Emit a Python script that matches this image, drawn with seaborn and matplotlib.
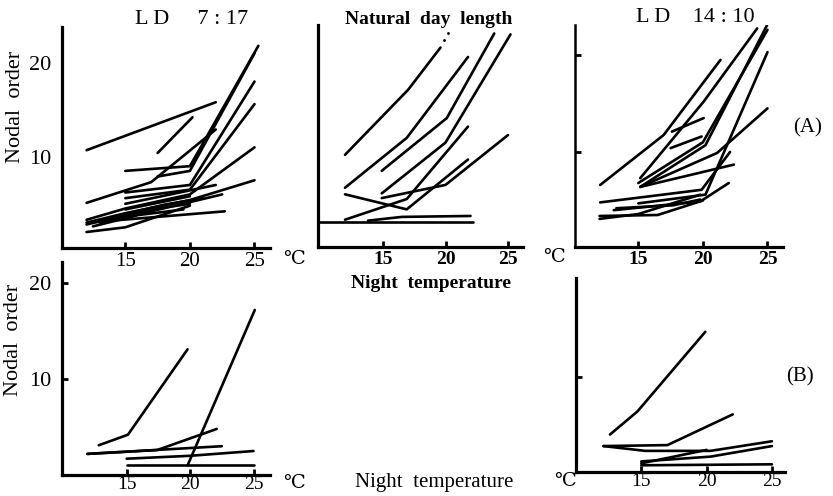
import matplotlib
matplotlib.use('Agg')
import matplotlib.pyplot as plt
import seaborn as sns
import pandas as pd

sns.set_theme(style='white')
plt.rcParams['font.family'] = ['Liberation Serif', 'DejaVu Serif']

# ---------------- data (night temperature, nodal order) ----------------
ld7_a = [
    [(12.0, 10.7), (22.0, 15.8)],
    [(17.5, 10.4), (20.2, 14.2)],
    [(15.0, 8.5), (20.0, 9.0), (25.3, 21.8)],
    [(12.0, 5.1), (17.0, 7.3), (22.0, 12.9)],
    [(17.5, 7.9), (20.0, 8.5), (25.0, 21.0)],
    [(15.0, 6.2), (20.0, 7.0), (25.0, 18.0)],
    [(15.0, 5.6), (20.0, 6.5), (25.0, 15.6)],
    [(12.0, 3.3), (15.0, 4.5), (20.0, 6.0), (25.0, 11.0)],
    [(15.0, 5.0), (22.0, 7.0)],
    [(12.0, 3.0), (15.0, 4.0), (20.0, 5.4), (25.0, 7.5)],
    [(13.0, 3.0), (17.0, 4.2), (22.5, 6.0)],
    [(12.0, 2.0), (15.0, 2.5), (20.0, 4.8)],
    [(13.0, 3.1), (22.7, 4.2)],
    [(15.0, 4.4), (20.0, 5.8)],
    [(12.0, 2.8), (17.0, 4.4), (20.0, 5.0)],
    [(14.0, 3.6), (18.0, 4.9), (21.0, 5.6)],
    [(12.5, 2.6), (16.0, 3.8), (19.5, 4.4)],
]
natural_a = [
    [(11.96, 10.2), (17.0, 17.1), (19.6, 21.6)],
    [(11.96, 6.7), (16.9, 12.0), (21.8, 20.6)],
    [(14.9, 8.5), (20.1, 14.1), (23.9, 23.1)],
    [(14.9, 6.1), (20.0, 11.5), (25.2, 23.0)],
    [(11.96, 6.0), (16.9, 4.4), (21.8, 9.7)],
    [(14.9, 5.6), (20.0, 7.0), (25.0, 12.3)],
    [(11.96, 3.3), (16.9, 5.5), (21.8, 13.2)],
    [(13.8, 3.2), (16.5, 3.6), (22.0, 3.7)],
    [(9.9, 3.1), (22.2, 3.1)],
]
natural_dots = [(19.85, 22.4), (20.2, 23.1)]
ld14_a = [
    [(12.05, 6.6), (16.96, 11.75), (21.36, 19.5)],
    [(15.15, 7.3), (20.06, 15.2), (24.2, 22.75)],
    [(15.15, 6.4), (20.2, 10.7), (24.97, 23.1)],
    [(15.0, 6.8), (20.0, 11.0), (25.0, 22.6)],
    [(17.6, 12.1), (20.06, 13.5)],
    [(17.5, 10.4), (19.9, 11.6)],
    [(15.15, 6.4), (21.1, 9.9), (25.0, 14.5)],
    [(15.15, 6.4), (22.4, 8.7)],
    [(12.05, 4.8), (17.5, 5.7), (19.9, 6.1), (22.1, 10.0)],
    [(13.1, 4.0), (19.8, 4.9), (22.0, 6.8)],
    [(15.0, 4.7), (20.2, 5.6), (25.0, 20.3)],
    [(12.0, 3.1), (15.0, 3.6), (19.8, 5.6)],
    [(13.3, 4.2), (17.7, 4.5), (19.8, 5.1)],
    [(12.0, 3.4), (16.5, 3.5), (20.0, 5.0)],
]
ld7_b = [
    [(12.8, 3.1), (15.1, 4.2), (19.8, 13.1)],
    [(19.8, 1.0), (25.1, 17.2)],
    [(11.9, 2.2), (17.4, 2.6), (22.1, 4.8)],
    [(11.9, 2.2), (22.5, 3.0)],
    [(15.0, 1.7), (20.0, 2.0), (25.0, 2.5)],
    [(15.0, 1.0), (25.0, 1.0)],
]
ld14_b = [
    [(12.6, 4.0), (14.7, 6.4), (19.9, 14.7)],
    [(12.1, 2.8), (17.0, 2.9), (22.0, 6.1)],
    [(12.1, 2.8), (15.3, 2.3), (20.3, 2.3), (25.0, 3.3)],
    [(15.0, 1.2), (20.3, 1.7), (25.0, 2.8)],
    [(15.0, 1.0), (20.0, 2.4)],
    [(15.0, 0.8), (25.0, 0.9)],
]
x_ticks = [15, 20, 25]
x_ticklabels = ['15', '20', '25']
y_ticks = [10, 20]
y_ticklabels = ['10', '20']

W, H = 833, 496
fig = plt.figure(figsize=(W / 100, H / 100), dpi=100)
fig.patch.set_facecolor('white')


def to_df(lines):
    rows = []
    for i, ln in enumerate(lines):
        for x, y in ln:
            rows.append({'line': i, 'temp': x, 'node': y})
    return pd.DataFrame(rows)


def add_ax(x0, x1, ytop, ybot, xlim, ylim):
    ax = fig.add_axes([x0 / W, 1 - ybot / H, (x1 - x0) / W, (ybot - ytop) / H])
    ax.set_facecolor('none')
    ax.set_xlim(*xlim)
    ax.set_ylim(*ylim)
    for s in ['top', 'right']:
        ax.spines[s].set_visible(False)
    for s in ['left', 'bottom']:
        ax.spines[s].set_color('black')
        ax.spines[s].set_linewidth(2.3)
    ax.grid(False)
    return ax


def draw(ax, lines):
    sns.lineplot(data=to_df(lines), x='temp', y='node', units='line',
                 estimator=None, sort=False, color='black', linewidth=1.9,
                 ax=ax, legend=False)
    ax.set_xlabel('')
    ax.set_ylabel('')


def xt(ax, bold=False, size=14, pad=3):
    ax.set_xticks(x_ticks)
    ax.set_xticklabels(x_ticklabels, fontsize=size,
                       fontweight='bold' if bold else 'normal')
    ax.tick_params(axis='x', direction='in', length=4, width=2,
                   pad=pad, colors='black', bottom=True)


# Panel A: LD 7:17
axA1 = add_ax(62, 270, 27, 248, (10.1, 26.2), (0.3, 23.8))
draw(axA1, ld7_a)
xt(axA1, size=15)
axA1.set_yticks(y_ticks)
axA1.set_yticklabels(y_ticklabels, fontsize=16)
axA1.tick_params(axis='y', length=0, pad=8, colors='black')

# Panel A: natural day length
axA2 = add_ax(318, 523, 25, 247, (9.8, 26.2), (0.4, 24.0))
draw(axA2, natural_a)
sns.scatterplot(x=[p[0] for p in natural_dots], y=[p[1] for p in natural_dots],
                color='black', s=5, ax=axA2, legend=False)
xt(axA2, bold=True)
axA2.set_yticks([])

# Panel A: LD 14:10
axA3 = add_ax(575, 783, 25, 247, (10.1, 26.2), (0.2, 23.1))
draw(axA3, ld14_a)
xt(axA3, bold=True)
axA3.spines['left'].set_linewidth(1.8)
axA3.set_yticks(y_ticks)
axA3.set_yticklabels([])
axA3.tick_params(axis='y', direction='in', length=4, width=2, colors='black', left=True)

# Panel B: LD 7:17
axB1 = add_ax(62, 270, 262, 475, (9.9, 26.3), (0.0, 22.2))
draw(axB1, ld7_b)
xt(axB1, size=14, pad=1)
axB1.set_yticks(y_ticks)
axB1.set_yticklabels(y_ticklabels, fontsize=16)
axB1.tick_params(axis='y', direction='in', length=4, width=2, pad=8,
                 colors='black', left=True)

# Panel B: LD 14:10
axB3 = add_ax(576, 785, 278, 472, (10.0, 26.0), (0.1, 20.3))
draw(axB3, ld14_b)
xt(axB3, size=14, pad=1)
axB3.set_yticks([10])
axB3.set_yticklabels([])
axB3.tick_params(axis='y', direction='in', length=4, width=2, colors='black', left=True)


def ftext(x, y, s, **kw):
    kw.setdefault('ha', 'center')
    kw.setdefault('va', 'center')
    kw.setdefault('color', 'black')
    fig.text(x / W, 1 - y / H, s, **kw)


ftext(192, 19, 'L D     7 : 17', fontsize=16)
ftext(429, 19, 'Natural  day  length', fontsize=14, fontweight='bold')
ftext(695, 18, 'L D    14 : 10', fontsize=16)
ftext(16, 107, 'Nodal  order', fontsize=16, rotation=90)
ftext(14, 340, 'Nodal  order', fontsize=16, rotation=90)
ftext(294, 260, '℃', fontsize=14)
ftext(554, 258, '℃', fontsize=14)
ftext(808, 128, '(A)', fontsize=15)
ftext(431, 283, 'Night  temperature', fontsize=14, fontweight='bold')
ftext(294, 483, '℃', fontsize=14)
ftext(434, 483, 'Night  temperature', fontsize=15)
ftext(565, 481, '℃', fontsize=14)
ftext(800, 377, '(B)', fontsize=15)

fig.savefig('out.png', dpi=100, facecolor='white')
